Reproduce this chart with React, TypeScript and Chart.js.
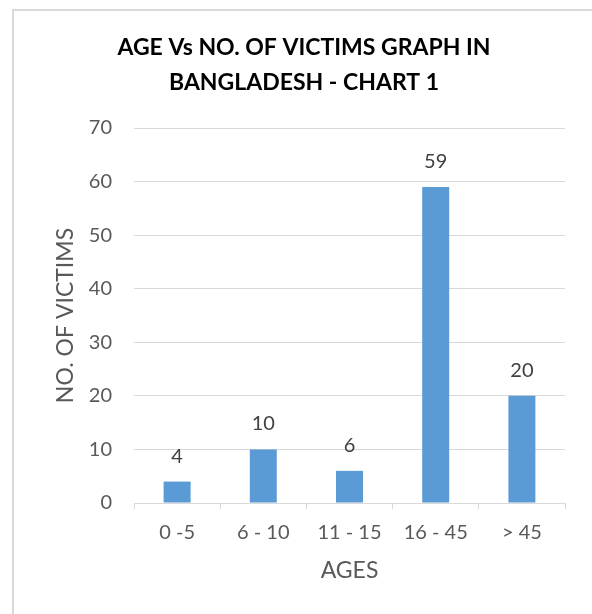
import React, { useEffect, useRef } from "react";
import { Chart, registerables } from "chart.js";

Chart.register(...registerables);

const categories = ["0 -5", "6 - 10", "11 - 15", "16 - 45", "> 45"];
const victims = [4, 10, 6, 59, 20];
const titleLines = ["AGE Vs NO. OF VICTIMS GRAPH IN", "BANGLADESH - CHART 1"];
const yTitle = "NO. OF VICTIMS";
const xTitle = "AGES";

const dataLabelPlugin = {
  id: "dataLabels",
  afterDatasetsDraw(chart: any) {
    const { ctx } = chart;
    const meta = chart.getDatasetMeta(0);
    ctx.save();
    ctx.font = "20px Lato";
    ctx.fillStyle = "#404040";
    ctx.textAlign = "center";
    ctx.textBaseline = "alphabetic";
    meta.data.forEach((bar: any, i: number) => {
      const v = chart.data.datasets[0].data[i];
      ctx.fillText(String(v), bar.x, bar.y - 19);
    });
    ctx.restore();
  },
};

export default function App() {
  const ref = useRef<HTMLCanvasElement>(null);
  useEffect(() => {
    if (!ref.current) return;
    const chart = new Chart(ref.current, {
      type: "bar",
      data: {
        labels: categories,
        datasets: [
          {
            data: victims,
            backgroundColor: "#5B9BD5",
            borderWidth: 0,
            categoryPercentage: 1,
            barPercentage: 0.313,
          },
        ],
      },
      options: {
        animation: false,
        responsive: false,
        devicePixelRatio: 1,
        layout: { padding: { left: 43, right: 27, top: 0, bottom: 29.4 } },
        plugins: {
          legend: { display: false },
          tooltip: { enabled: false },
          title: {
            display: true,
            text: titleLines,
            color: "#000000",
            font: { family: "Lato", size: 23, weight: "bold", lineHeight: 1.52 },
            padding: { top: 30.5, bottom: 27.6 },
          },
        },
        scales: {
          x: {
            grid: {
              display: true,
              drawOnChartArea: false,
              drawTicks: true,
              tickLength: 6,
              color: "#d9d9d9",
            },
            border: { display: true, color: "#d9d9d9" },
            ticks: {
              color: "#595959",
              font: { family: "Lato", size: 20 },
              padding: 12,
              maxRotation: 0,
              autoSkip: false,
            },
            title: {
              display: true,
              text: xTitle,
              color: "#595959",
              font: { family: "Lato", size: 23 },
              padding: { top: 0, bottom: 0 },
            },
          },
          y: {
            min: 0,
            max: 70,
            afterFit: (scale: any) => {
              scale.width = 91;
            },
            grid: { color: "#d9d9d9", drawTicks: false },
            border: { display: false },
            ticks: {
              stepSize: 10,
              color: "#595959",
              font: { family: "Lato", size: 20 },
              padding: 22,
            },
            title: {
              display: true,
              text: yTitle,
              color: "#595959",
              font: { family: "Lato", size: 23 },
              padding: { top: 9, bottom: 0 },
            },
          },
        },
      },
      plugins: [dataLabelPlugin],
    } as any);
    return () => chart.destroy();
  }, []);

  return (
    <>
      <div
        style={{
          position: "fixed",
          left: 12,
          top: 9,
          width: 620,
          height: 640,
          borderLeft: "2px solid #d9d9d9",
          borderTop: "2px solid #d9d9d9",
          boxSizing: "border-box",
        }}
      />
      <canvas
        ref={ref}
        width={592}
        height={614}
        style={{ position: "fixed", left: 0, top: 0, width: 592, height: 614 }}
      />
    </>
  );
}
